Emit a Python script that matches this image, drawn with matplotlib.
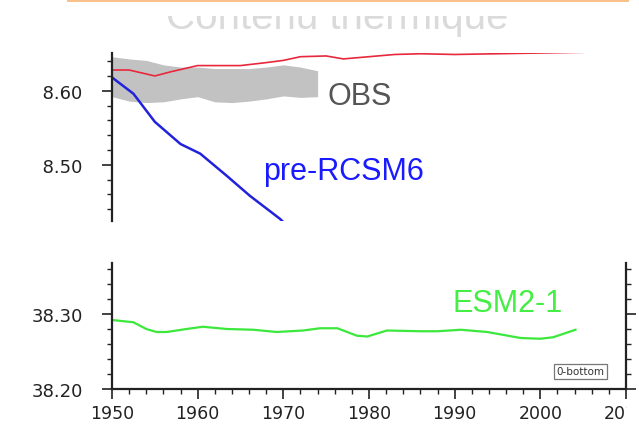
import matplotlib
matplotlib.use("Agg")
import matplotlib.pyplot as plt
from matplotlib.patches import Rectangle
from matplotlib.ticker import MultipleLocator, FixedLocator

# --- data ----------------------------------------------------------------
obs_years = [1950, 1952, 1954, 1956, 1958, 1960, 1962, 1964, 1966, 1968, 1970, 1972, 1974]
obs_upper = [38.646, 38.643, 38.641, 38.635, 38.632, 38.632, 38.630, 38.630, 38.630,
             38.632, 38.635, 38.632, 38.627]
obs_lower = [38.592, 38.586, 38.584, 38.585, 38.589, 38.592, 38.585, 38.584, 38.586,
             38.589, 38.593, 38.591, 38.592]

red_years = [1950, 1952, 1955, 1957, 1960, 1965, 1968, 1970, 1972, 1975, 1977, 1980,
             1983, 1986, 1990, 1995, 2000, 2005]
red_vals = [38.628, 38.628, 38.620, 38.626, 38.634, 38.634, 38.638, 38.641, 38.646,
            38.647, 38.643, 38.646, 38.649, 38.650, 38.649, 38.650, 38.651, 38.652]

blue_years = [1950, 1952.5, 1955, 1958, 1960.3, 1963.4, 1966.1, 1969.6, 1972]
blue_vals = [38.618, 38.596, 38.558, 38.528, 38.515, 38.485, 38.458, 38.427, 38.40]

green_years = [1950, 1952.5, 1954, 1955.2, 1956.4, 1958.7, 1960.6, 1963.4, 1966.5,
               1969.2, 1972.3, 1974.3, 1976.3, 1978.6, 1979.8, 1982.1, 1986, 1988,
               1990.7, 1993.8, 1997.7, 2000, 2001.5, 2004.1]
green_vals = [38.292, 38.289, 38.280, 38.276, 38.276, 38.280, 38.283, 38.280, 38.279,
              38.276, 38.278, 38.281, 38.281, 38.271, 38.270, 38.278, 38.277, 38.277,
              38.279, 38.276, 38.268, 38.267, 38.269, 38.279]

top_yticks = [38.50, 38.60]
bot_yticks = [38.20, 38.30]
xticks = [1950, 1960, 1970, 1980, 1990, 2000, 2010]

W, H = 639, 427
fig = plt.figure(figsize=(W / 100, H / 100), dpi=100)
fig.patch.set_facecolor("white")


def frac(x0, y0, x1, y1):
    # pixel box (top-left origin) -> figure fraction rect
    return [x0 / W, 1 - y1 / H, (x1 - x0) / W, (y1 - y0) / H]


def style_ticks(ax):
    ax.tick_params(which="major", direction="out", length=7, width=1.2,
                   color="#222222", labelcolor="#222222", labelsize=13)
    ax.tick_params(which="minor", direction="out", length=3.6, width=1, color="#222222")
    ax.tick_params(axis="y", which="major", pad=14)
    ax.tick_params(axis="x", which="major", pad=4, labelsize=12.5)
    for lab in ax.get_yticklabels() + ax.get_xticklabels():
        lab.set_fontfamily("DejaVu Sans")


# --- upper panel -----------------------------------------------------------
ax1 = fig.add_axes(frac(112, 54, 626, 222))
ax1.fill_between(obs_years, obs_lower, obs_upper, color="#c2c2c2", lw=0)
ax1.plot(red_years, red_vals, color="#e8283c", lw=1.2)
ax1.plot(blue_years, blue_vals, color="#2222dd", lw=1.8)
ax1.set_xlim(1950, 2010)
ax1.set_ylim(38.424, 38.651)
for s in ["top", "right", "bottom"]:
    ax1.spines[s].set_visible(False)
ax1.spines["left"].set_linewidth(1.6)
ax1.spines["left"].set_color("#222222")
ax1.set_xticks([])
ax1.yaxis.set_major_locator(FixedLocator(top_yticks))
ax1.set_yticklabels([f"{v:.2f}" for v in top_yticks])
ax1.yaxis.set_minor_locator(MultipleLocator(0.02))
style_ticks(ax1)

ax1.text(1975.2, 38.582, "OBS", color="#555555", fontsize=22, family="Liberation Sans")
ax1.text(1967.6, 38.481, "pre-RCSM6", color="#1a1aff", fontsize=22,
         family="Liberation Sans")

# --- lower panel -----------------------------------------------------------
ax2 = fig.add_axes(frac(112, 264, 626, 390))
ax2.plot(green_years, green_vals, color="#3be83b", lw=1.6)
ax2.set_xlim(1950, 2010)
ax2.set_ylim(38.20, 38.368)
ax2.spines["top"].set_visible(False)
for s in ["left", "bottom", "right"]:
    ax2.spines[s].set_linewidth(1.6)
    ax2.spines[s].set_color("#222222")
ax2.xaxis.set_major_locator(FixedLocator(xticks))
ax2.set_xticklabels([str(v) for v in xticks])
ax2.xaxis.set_minor_locator(MultipleLocator(2))
ax2.yaxis.set_major_locator(FixedLocator(bot_yticks))
ax2.set_yticklabels([f"{v:.2f}" for v in bot_yticks])
ax2.yaxis.set_minor_locator(MultipleLocator(0.02))
ax2.tick_params(which="both", right=True, labelright=False)
style_ticks(ax2)

ax2.text(1989.7, 38.304, "ESM2-1", color="#44ee44", fontsize=22, family="Liberation Sans")
ax2.text(0.912, 0.139, "0-bottom", transform=ax2.transAxes, ha="center", va="center",
         fontsize=7.5, color="#333333",
         bbox=dict(boxstyle="square,pad=0.25", fc="white", ec="#777777", lw=0.9))

# --- faded title, cut by the slide crop -------------------------------------
fig.text(337 / W, 1 - 29 / H, "Contenu thermique", ha="center", va="baseline",
         fontsize=29, color="#dadada", family="Liberation Sans", zorder=3)
fig.add_artist(Rectangle((0, 1 - 17 / H), 1, 17 / H, transform=fig.transFigure,
                         facecolor="white", edgecolor="none", zorder=4))
fig.add_artist(Rectangle((67 / W, 1 - 3 / H), (629 - 67) / W, 3 / H,
                         transform=fig.transFigure, facecolor="#f8c08a",
                         edgecolor="none", zorder=5))

# crop masks: left edge of upper labels, right edge of the last year label
fig.add_artist(Rectangle((0, 1 - 200 / H), 43 / W, 140 / H, transform=fig.transFigure,
                         facecolor="white", edgecolor="none", zorder=6))
fig.add_artist(Rectangle((627 / W, 0), 12 / W, 1 - 394 / H, transform=fig.transFigure,
                         facecolor="white", edgecolor="none", zorder=6))

fig.savefig("out.png", dpi=100, facecolor="white")
